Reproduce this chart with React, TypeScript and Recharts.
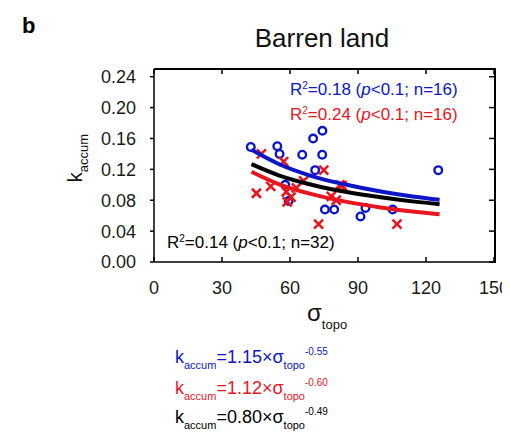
import React from 'react';
import { ScatterChart, Scatter, XAxis, YAxis } from 'recharts';

const xTicks = [0, 30, 60, 90, 120, 150];
const yTicks = [0, 0.04, 0.08, 0.12, 0.16, 0.2, 0.24];
const xMax = 150;
const yMax = 0.25;

// blue circles
const blueX = [42.7, 54.4, 55.4, 65.4, 70.2, 74.3, 74.2, 71.1, 57.9, 59.4, 75.4, 79.5, 91.1, 93.3, 105.3, 125.4];
const blueY = [0.149, 0.15, 0.14, 0.139, 0.16, 0.17, 0.139, 0.119, 0.1, 0.079, 0.068, 0.068, 0.059, 0.07, 0.068, 0.119];
// red crosses
const redX = [47.4, 57.2, 45.2, 51.5, 58.4, 58.8, 62.8, 66.0, 74.9, 72.6, 78.2, 80.4, 83.0, 107.2, 60.5, 82.0];
const redY = [0.14, 0.13, 0.089, 0.098, 0.091, 0.078, 0.096, 0.105, 0.119, 0.049, 0.085, 0.08, 0.099, 0.049, 0.084, 0.1];

// fitted curves, read along x
const fitX = [43, 55, 70, 85, 100, 115, 126];
const blueFitY = [0.1453, 0.127, 0.111, 0.1, 0.0913, 0.0845, 0.0805];
const redFitY = [0.117, 0.101, 0.0876, 0.0779, 0.0707, 0.065, 0.0617];
const blackFitY = [0.1267, 0.1123, 0.0998, 0.0907, 0.0838, 0.0782, 0.0749];

const BLUE = '#0c16c8';
const RED = '#e8161e';
const FONT = '"Liberation Sans", Arial, sans-serif';

const W = 502;
const H = 423;
const MARGIN = { top: 61, right: 16, left: 86, bottom: 139 };
const Y_AXIS_W = 60;
const X_AXIS_H = 30;
// plot box from the layout above (used only for the frame on top/right)
const boxL = MARGIN.left + Y_AXIS_W;
const boxT = MARGIN.top;
const boxR = W - MARGIN.right;
const boxB = H - MARGIN.bottom - X_AXIS_H;

const zip = (xs: number[], ys: number[]) => xs.map((x, i) => ({ x, y: ys[i] }));
const bluePts = zip(blueX, blueY);
const redPts = zip(redX, redY);
const blueFit = zip(fitX, blueFitY);
const redFit = zip(fitX, redFitY);
const blackFit = zip(fitX, blackFitY);

const Circle = (p: any) => (
  <circle cx={p.cx} cy={p.cy} r={3.8} fill="none" stroke={BLUE} strokeWidth={2.4} />
);
const Cross = (p: any) => (
  <path
    d={`M${p.cx - 4.5},${p.cy - 4.5}L${p.cx + 4.5},${p.cy + 4.5}M${p.cx - 4.5},${p.cy + 4.5}L${p.cx + 4.5},${p.cy - 4.5}`}
    stroke={RED}
    strokeWidth={2.6}
  />
);
const NoDot = () => null;

const tickStyle = { fill: '#1a1a1a', fontSize: 18, fontFamily: FONT };

function Eq({ y, color, text, exp }: { y: number; color: string; text: string; exp: string }) {
  return (
    <text x={167} y={y} fill={color} fontSize={18} fontFamily={FONT}>
      k
      <tspan fontSize={11} dy={6}>accum</tspan>
      <tspan dy={-6}>{text}</tspan>
      <tspan fontSize={11} dy={6}>topo</tspan>
      <tspan fontSize={10} dy={-14}>{exp}</tspan>
    </text>
  );
}

function RText({ x, y, color, r2, n }: { x: number; y: number; color: string; r2: string; n: number }) {
  return (
    <text x={x} y={y} fill={color} fontSize={17} fontFamily={FONT}>
      R<tspan fontSize={10} dy={-6}>2</tspan>
      <tspan dy={6}>={r2} (</tspan>
      <tspan fontStyle="italic">p</tspan>
      <tspan>{`<0.1; n=${n})`}</tspan>
    </text>
  );
}

export default function App() {
  const fx = (v: number) => boxL + ((boxR - boxL) * v) / xMax;
  const fy = (v: number) => boxB - ((boxB - boxT) * v) / yMax;
  return (
    <div style={{ position: 'relative', width: W, height: H, background: '#fff', overflow: 'hidden' }}>
      <ScatterChart width={W} height={H} margin={MARGIN}>
        <XAxis
          type="number"
          dataKey="x"
          domain={[0, xMax]}
          ticks={xTicks}
          tick={tickStyle}
          tickSize={-5}
          tickMargin={24}
          stroke="#000"
          strokeWidth={1.5}
          height={X_AXIS_H}
        />
        <YAxis
          type="number"
          dataKey="y"
          domain={[0, yMax]}
          ticks={yTicks}
          tick={tickStyle}
          tickFormatter={(v: number) => v.toFixed(2)}
          tickSize={4}
          tickMargin={14}
          stroke="#000"
          strokeWidth={1.5}
          width={Y_AXIS_W}
        />
        <Scatter data={bluePts} shape={Circle} isAnimationActive={false} />
        <Scatter data={redPts} shape={Cross} isAnimationActive={false} />
        <Scatter
          data={blueFit}
          line={{ stroke: BLUE, strokeWidth: 4 }}
          lineJointType="monotoneX"
          shape={NoDot}
          isAnimationActive={false}
        />
        <Scatter
          data={blackFit}
          line={{ stroke: '#000', strokeWidth: 4 }}
          lineJointType="monotoneX"
          shape={NoDot}
          isAnimationActive={false}
        />
        <Scatter
          data={redFit}
          line={{ stroke: RED, strokeWidth: 4 }}
          lineJointType="monotoneX"
          shape={NoDot}
          isAnimationActive={false}
        />
      </ScatterChart>
      {/* top and right edges of the box */}
      <div
        style={{
          position: 'absolute',
          left: boxL,
          top: boxT - 1,
          width: boxR - boxL,
          height: boxB - boxT,
          borderTop: '2px solid #000',
          borderRight: '2px solid #000',
          pointerEvents: 'none',
        }}
      />
      <svg width={W} height={H} style={{ position: 'absolute', left: 0, top: 0, pointerEvents: 'none' }}>
        {xTicks.map((t) => (
          <line key={'tx' + t} x1={fx(t)} x2={fx(t)} y1={boxT} y2={boxT + 5} stroke="#000" strokeWidth={1.5} />
        ))}
        {yTicks.map((t) => (
          <line key={'ty' + t} x1={boxR} x2={boxR - 5} y1={fy(t)} y2={fy(t)} stroke="#000" strokeWidth={1.5} />
        ))}
        <text x={14} y={25} fontSize={22} fontWeight="bold" fontFamily={FONT} fill="#000">b</text>
        <text x={314} y={39} fontSize={26} fontFamily={FONT} fill="#111" textAnchor="middle">Barren land</text>
        <RText x={282} y={87} color={BLUE} r2="0.18" n={16} />
        <RText x={282} y={112} color={RED} r2="0.24" n={16} />
        <RText x={159} y={240} color="#000" r2="0.14" n={32} />
        <text transform="translate(74,150) rotate(-90)" fontSize={20} fontFamily={FONT} fill="#111" textAnchor="middle">
          k<tspan fontSize={13} dy={6}>accum</tspan>
        </text>
        <text x={299} y={313} fontSize={24} fontFamily={FONT} fill="#111">
          σ<tspan fontSize={13} dy={8}>topo</tspan>
        </text>
        <Eq y={355} color={BLUE} text="=1.15×σ" exp="-0.55" />
        <Eq y={386} color={RED} text="=1.12×σ" exp="-0.60" />
        <Eq y={415} color="#000" text="=0.80×σ" exp="-0.49" />
      </svg>
    </div>
  );
}
